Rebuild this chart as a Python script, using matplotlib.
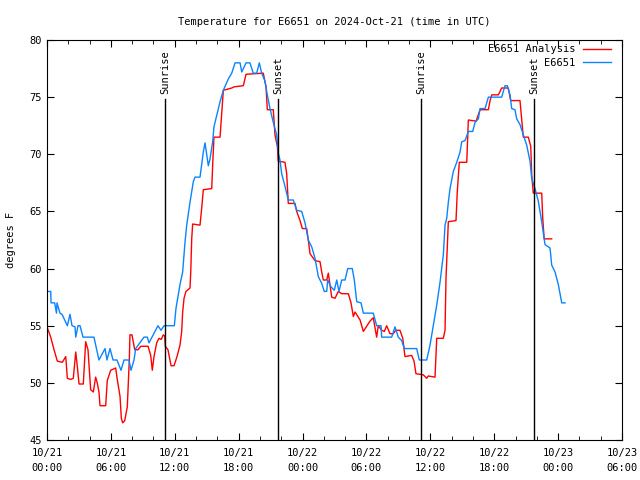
import numpy as np
import matplotlib.pyplot as plt
from matplotlib.ticker import MultipleLocator

# hours since 10/21 00:00 UTC, temperatures in degrees F
obs_hours = [0.0, 0.35, 0.38, 0.72, 0.89, 0.94, 1.22, 1.41, 1.91, 2.16, 2.35, 2.63, 2.70, 2.91,
             3.10, 3.38, 4.41, 4.88, 5.45, 5.63, 5.92, 6.20, 6.57, 6.95, 7.23, 7.70, 7.89, 8.17,
             8.33, 9.11, 9.42, 9.58, 9.86, 10.42, 10.71, 10.99, 11.18, 11.96, 12.11, 12.49, 12.74,
             12.96, 13.12, 13.43, 13.74, 13.90, 14.37, 14.53, 14.68, 14.84, 15.15, 15.31, 15.56,
             15.68, 15.94, 16.25, 16.56, 17.03, 17.35, 17.66, 18.13, 18.29, 18.69, 19.06, 19.37,
             19.69, 19.94, 20.16, 20.47, 20.69, 20.94, 21.25, 21.57, 21.72, 21.88, 22.04, 22.35,
             22.66, 23.13, 23.45, 23.92, 24.23, 24.54, 24.86, 25.17, 25.48, 25.80, 26.04, 26.27,
             26.36, 26.67, 26.98, 27.21, 27.42, 27.68, 27.99, 28.24, 28.67, 28.86, 29.09, 29.49,
             29.71, 30.64, 30.96, 31.37, 31.43, 32.37, 32.68, 32.99, 33.31, 33.56, 34.72, 34.96,
             35.66, 35.97, 36.28, 36.60, 36.91, 37.22, 37.38, 37.54, 37.69, 37.85, 38.16, 38.48,
             38.79, 38.95, 39.26, 39.57, 39.98, 40.20, 40.51, 40.67, 41.14, 41.45, 42.70, 43.01,
             43.23, 43.48, 43.64, 43.95, 44.11, 44.42, 44.73, 45.05, 45.36, 45.52, 45.83, 46.14,
             46.46, 46.77, 47.24, 47.40, 47.71, 48.02, 48.34, 48.65]
obs_temp = [58.0, 58.0, 57.0, 57.0, 56.1, 57.0, 56.1, 56.0, 55.0, 56.0, 55.0, 54.9, 54.0, 55.0,
            55.0, 54.0, 54.0, 52.0, 53.0, 52.0, 53.0, 52.0, 52.0, 51.1, 52.0, 52.0, 51.1, 52.0,
            53.0, 54.0, 54.0, 53.5, 54.0, 55.0, 54.6, 55.0, 55.0, 55.0, 56.5, 58.6, 59.7,
            62.3, 63.8, 65.8, 67.6, 68.0, 68.0, 69.1, 70.2, 71.0, 69.0, 69.6, 71.1,
            72.4, 73.4, 74.6, 75.6, 76.6, 77.1, 78.0, 78.0, 77.2, 78.0, 78.0, 77.1,
            77.1, 78.0, 77.1, 76.4, 75.2, 74.0, 72.8, 71.7, 70.1, 69.5, 68.3, 67.2,
            66.0, 66.0, 65.1, 65.0, 64.0, 62.5, 61.9, 60.9, 59.3, 58.7, 58.0, 58.0,
            59.0, 58.4, 58.1, 59.0, 58.0, 59.0, 59.0, 60.0, 60.0, 59.0, 57.1, 57.0,
            56.1, 56.1, 55.0, 55.0, 54.0, 54.0, 54.9, 54.0, 53.7, 53.0, 53.0, 52.0,
            52.0, 53.3, 55.0, 56.8, 58.8, 61.2, 63.8, 64.4, 65.8, 67.0, 68.5, 69.3,
            70.2, 71.1, 71.2, 72.0, 72.0, 72.8, 73.1, 74.0, 74.0, 75.0, 75.0, 76.0,
            76.0, 75.2, 74.0, 73.9, 73.1, 72.6, 71.7, 70.8, 69.4, 67.9, 67.0, 65.9,
            64.1, 62.1, 61.8, 60.3, 59.7, 58.6, 57.0, 57.0]

ana_hours = [0.0, 0.35, 0.66, 0.97, 1.44, 1.76, 1.91, 2.23, 2.47, 2.70, 2.85, 3.01, 3.41, 3.63,
             3.85, 4.10, 4.35, 4.57, 4.72, 4.88, 4.98, 5.51, 5.66, 5.98, 6.45, 6.60, 6.86, 6.98,
             7.11, 7.30, 7.54, 7.73, 7.79, 7.98, 8.24, 8.55, 8.80, 9.49, 9.74, 9.89, 10.05, 10.30,
             10.52, 10.73, 10.92, 11.05, 11.11, 11.36, 11.65, 11.93, 12.21, 12.49, 12.65, 12.74,
             12.87, 13.05, 13.43, 13.50, 13.59, 13.68, 14.37, 14.53, 14.68, 15.47, 15.56, 15.68,
             16.25, 16.56, 17.35, 17.56, 18.44, 18.69, 20.31, 20.57, 20.69, 21.25, 21.41, 21.63,
             21.72, 22.35, 22.51, 22.66, 23.29, 23.45, 23.76, 23.98, 24.39, 24.54, 24.70, 24.86,
             25.17, 25.64, 25.80, 25.95, 26.27, 26.42, 26.74, 27.05, 27.36, 27.68, 28.30, 28.55,
             28.77, 28.93, 29.40, 29.71, 30.33, 30.64, 30.96, 31.11, 31.43, 31.68, 31.90, 32.21,
             32.52, 32.75, 33.15, 33.41, 33.62, 34.25, 34.47, 34.65, 35.34, 35.66, 35.81, 36.44,
             36.60, 37.22, 37.38, 37.47, 37.69, 38.41, 38.53, 38.72, 39.42, 39.57, 40.30, 40.67,
             41.45, 41.61, 41.77, 42.39, 42.70, 43.32, 43.55, 44.42, 44.58, 44.73, 45.20, 45.43,
             45.52, 45.67, 46.46, 46.55, 46.69, 47.40]
ana_temp = [54.9, 54.0, 52.9, 51.9, 51.8, 52.3, 50.4, 50.3, 50.4, 52.7, 51.4, 49.9, 49.9, 53.6,
            52.9, 49.4, 49.2, 50.5, 50.0, 49.2, 48.0, 48.0, 50.2, 51.1, 51.3, 50.3, 48.8, 46.9,
            46.5, 46.7, 47.9, 52.0, 54.2, 54.2, 52.9, 52.9, 53.2, 53.2, 52.4, 51.1, 52.3, 53.5,
            53.9, 53.8, 54.2, 54.1, 53.2, 52.9, 51.5, 51.5, 52.3, 53.3, 54.5, 56.2,
            57.4, 58.0, 58.3, 59.7, 62.6, 63.9, 63.8, 65.3, 66.9, 67.0, 69.1, 71.5,
            71.5, 75.6, 75.8, 75.9, 76.0, 77.0, 77.1, 75.9, 73.9, 73.9, 71.7, 70.7,
            69.4, 69.3, 68.3, 65.7, 65.7, 65.0, 64.2, 63.5, 63.5, 62.5, 61.3, 61.1,
            60.7, 60.6, 59.7, 59.0, 59.0, 59.6, 57.5, 57.4, 58.0, 57.8, 57.8, 57.0,
            55.8, 56.2, 55.5, 54.5, 55.4, 55.7, 54.0, 55.0, 54.6, 54.5, 55.0, 54.3,
            54.3, 54.6, 54.6, 53.9, 52.3, 52.4, 51.9, 50.8, 50.7, 50.4, 50.6, 50.5,
            53.9, 53.9, 54.6, 59.1, 64.1, 64.2, 66.7, 69.3, 69.3, 73.0, 72.9, 73.9,
            73.9, 74.7, 75.2, 75.2, 75.8, 75.8, 74.7, 74.7, 73.1, 71.5, 71.5, 70.7,
            68.2, 66.6, 66.6, 64.5, 62.6, 62.6]

sun_hours = [11.10, 21.72, 35.15, 45.77]
sun_names = ['Sunrise', 'Sunset', 'Sunrise', 'Sunset']

tick_hours = [0, 6, 12, 18, 24, 30, 36, 42, 48, 54]
tick_labels = ['10/21\n00:00', '10/21\n06:00', '10/21\n12:00', '10/21\n18:00', '10/22\n00:00',
               '10/22\n06:00', '10/22\n12:00', '10/22\n18:00', '10/23\n00:00', '10/23\n06:00']

plt.rcParams['font.family'] = 'DejaVu Sans Mono'
plt.rcParams['font.size'] = 7

fig = plt.figure(figsize=(6.4, 4.8), dpi=100)
ax = fig.add_axes([47 / 640, 40 / 480, 575 / 640, 400 / 480])

ax.plot(ana_hours, ana_temp, color='#ff0000', lw=1, label='E6651 Analysis')
ax.plot(obs_hours, obs_temp, color='#0a84ff', lw=1, label='E6651')

for h, name in zip(sun_hours, sun_names):
    ax.plot([h, h], [45, 74.8], color='black', lw=1)
    ax.text(h, 75.3, name, rotation=90, ha='center', va='bottom', fontsize=7.5)

ax.set_xlim(0, 54)
ax.set_ylim(45, 80)
ax.set_xticks(tick_hours)
ax.set_xticklabels(tick_labels, linespacing=1.6)
ax.set_yticks(range(45, 81, 5))
ax.xaxis.set_minor_locator(MultipleLocator(2))
ax.tick_params(which='both', direction='in', top=True, right=True, labelsize=7.5)
ax.tick_params(which='major', length=5, pad=4)
ax.tick_params(axis='x', which='major', pad=6)
ax.tick_params(which='minor', length=3)
ax.set_ylabel('degrees F', fontsize=7.5, labelpad=9)
ax.set_title('Temperature for E6651 on 2024-Oct-21 (time in UTC)', fontsize=7.5, pad=11)

ax.legend(loc='upper right', bbox_to_anchor=(0.988, 1.0), frameon=False, markerfirst=False,
          handlelength=2.7, handletextpad=0.7, labelspacing=0.35, borderaxespad=0.0,
          fontsize=7.5)

fig.savefig('out.png', dpi=100)
